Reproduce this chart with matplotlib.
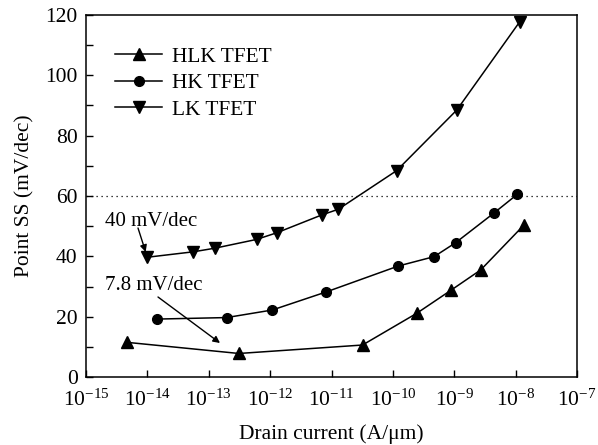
import matplotlib
matplotlib.use("Agg")
import matplotlib.pyplot as plt
from matplotlib.ticker import FixedLocator, MultipleLocator, LogFormatterMathtext

plt.rcParams['font.family'] = ['Liberation Serif', 'DejaVu Serif']
plt.rcParams['mathtext.fontset'] = 'stix'

hlk_x = [4.6e-15, 3.1e-13, 3.2e-11, 2.44e-10, 8.9e-10, 2.7e-9, 1.37e-8]
hlk_y = [11.5, 7.8, 10.6, 21.1, 28.8, 35.5, 50.4]

hk_x = [1.42e-14, 1.95e-13, 1.08e-12, 8.2e-12, 1.23e-10, 4.7e-10, 1.05e-9, 4.4e-9, 1.07e-8]
hk_y = [19.2, 19.7, 22.2, 28.2, 36.8, 39.9, 44.5, 54.3, 60.6]

lk_x = [1.0e-14, 5.6e-14, 1.26e-13, 6.0e-13, 1.28e-12, 6.9e-12, 1.29e-11, 1.15e-10, 1.1e-9, 1.17e-8]
lk_y = [39.7, 41.5, 42.7, 45.6, 47.8, 53.7, 55.6, 68.4, 88.5, 117.8]

series_labels = ['HLK TFET', 'HK TFET', 'LK TFET']
x_decades = [1e-15, 1e-14, 1e-13, 1e-12, 1e-11, 1e-10, 1e-9, 1e-8, 1e-7]
ref_line = 60

fig = plt.figure(figsize=(5.98, 4.45), dpi=100)
ax = fig.add_axes([0.1438, 0.1528, 0.8211, 0.8135])

ax.plot(hlk_x, hlk_y, color='black', lw=1.1, marker='^', ms=9, label=series_labels[0])
ax.plot(hk_x, hk_y, color='black', lw=1.1, marker='o', ms=7, label=series_labels[1])
ax.plot(lk_x, lk_y, color='black', lw=1.1, marker='v', ms=9, label=series_labels[2])

ax.axhline(ref_line, color='black', lw=0.9, ls=(0, (1, 3)))

ax.set_xscale('log')
ax.set_xlim(x_decades[0], x_decades[-1])
ax.set_ylim(0, 120)
ax.xaxis.set_major_locator(FixedLocator(x_decades))
ax.xaxis.set_minor_locator(FixedLocator([]))
ax.xaxis.set_major_formatter(LogFormatterMathtext())
ax.yaxis.set_major_locator(MultipleLocator(20))
ax.yaxis.set_minor_locator(MultipleLocator(10))
ax.tick_params(which='both', direction='in', labelsize=15.5, top=False, right=False)
ax.tick_params(which='major', length=5, width=1)
ax.tick_params(which='minor', length=5, width=1)
ax.tick_params(axis='x', pad=9)
ax.tick_params(axis='y', pad=6)
for s in ax.spines.values():
    s.set_linewidth(1.1)

ax.set_xlabel('Drain current (A/μm)', fontsize=15.5, labelpad=10)
ax.set_ylabel('Point SS (mV/dec)', fontsize=15.5)
ax.yaxis.set_label_coords(-0.104, 0.5)

ax.text(105, 445 - 226, '40 mV/dec', transform=None, fontsize=15, ha='left', va='baseline')
ax.annotate('', xy=(lk_x[0], lk_y[0]), xytext=(138, 445 - 228), textcoords='figure pixels',
            arrowprops=dict(arrowstyle='-|>', color='black', lw=1, shrinkA=0, shrinkB=4,
                            mutation_scale=10))
ax.text(105, 445 - 290, '7.8 mV/dec', transform=None, fontsize=15, ha='left', va='baseline')
ax.annotate('', xy=(220, 445 - 343), xycoords='figure pixels',
            xytext=(158, 445 - 297), textcoords='figure pixels',
            arrowprops=dict(arrowstyle='-|>', color='black', lw=1, shrinkA=0, shrinkB=0,
                            mutation_scale=10))

ax.legend(loc='upper left', frameon=False, fontsize=15.4, bbox_to_anchor=(0.02, 0.965),
          handlelength=2.2, labelspacing=0.3, handletextpad=0.45)

fig.savefig('out.png', dpi=100)
